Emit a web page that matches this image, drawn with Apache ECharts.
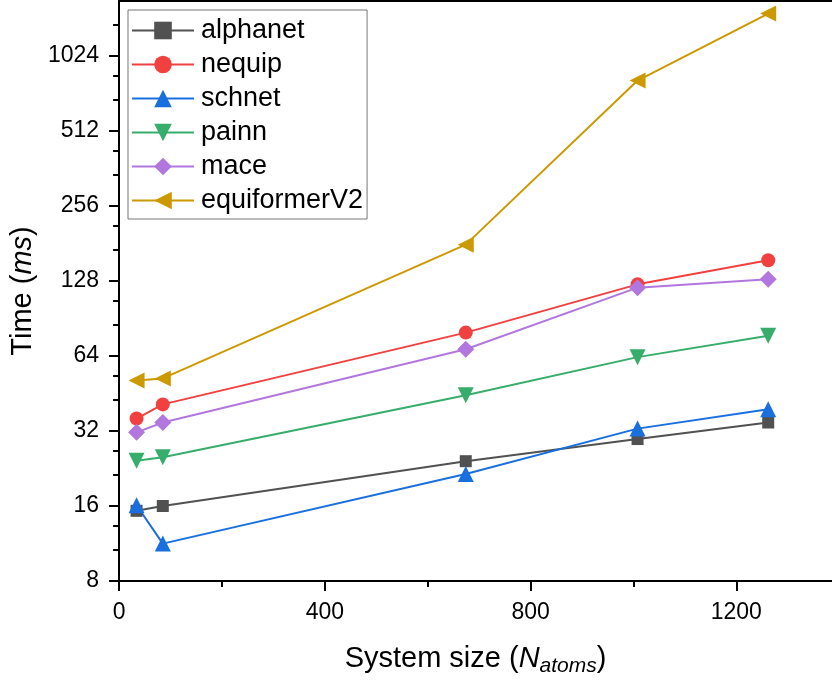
<!DOCTYPE html>
<html>
<head>
<meta charset="utf-8">
<script src="https://cdn.jsdelivr.net/npm/echarts@6/dist/echarts.min.js"></script>
<style>
  html, body { margin: 0; padding: 0; background: #fff; }
  #chart { width: 832px; height: 682px; }
</style>
</head>
<body>
<div id="chart"></div>
<script>
// system sizes (N atoms)
const sizes = [34, 85, 674, 1008, 1262];

const alphanet = [15.3, 16.0, 24.2, 29.7, 34.6];
const nequip = [35.9, 40.9, 79.4, 124, 155];
const schnet = [16.1, 11.3, 21.5, 32.7, 39.1];
const painn = [24.3, 25.1, 44.5, 63.3, 77.2];
const mace = [31.6, 34.6, 68.1, 120.3, 129.9];
const equiformerV2 = [51, 52, 179, 815, 1513];

const xTicks = [0, 400, 800, 1200];
const xMinor = [200, 600, 1000];
const yTicks = [8, 16, 32, 64, 128, 256, 512, 1024];
// minor ticks on the log axis sit at thirds of each octave (linear)
const yMinor = [];
yTicks.forEach(function (t) { yMinor.push(t * 4 / 3, t * 5 / 3); });

const font = '"Liberation Sans", Arial, sans-serif';

function pairs(ys) {
  return sizes.map(function (x, i) { return [x, ys[i]]; });
}

function makeSeries(name, ys, color, symbol, size, rotate) {
  return {
    name: name,
    type: 'line',
    data: pairs(ys),
    symbol: symbol,
    symbolSize: size,
    symbolRotate: rotate || 0,
    lineStyle: { color: color, width: 2 },
    itemStyle: { color: color, opacity: 1 },
    emphasis: { disabled: true },
    z: 3
  };
}

const tickLine = { color: '#000', width: 2 };
const xMax = 1386;
const yMin = 8, yMax = 1700;

const myChart = echarts.init(document.getElementById('chart'));

const option = {
  animation: false,
  textStyle: { fontFamily: font, color: '#000' },
  grid: { left: 118, right: 0, top: 1, bottom: 100 },
  legend: {
    orient: 'vertical',
    left: 128,
    top: 10,
    padding: [7, 4, 5, 3],
    itemWidth: 62,
    itemHeight: 22,
    itemGap: 7,
    borderColor: '#777',
    borderWidth: 1,
    textStyle: { fontFamily: font, fontSize: 27, color: '#000', padding: [0, 0, 0, 2] },
    data: ['alphanet', 'nequip', 'schnet', 'painn', 'mace', 'equiformerV2']
  },
  xAxis: [
    {
      type: 'value',
      min: 0,
      max: xMax,
      name: '{a|System size (}{i|N}{s|atoms}{a|)}',
      nameLocation: 'middle',
      nameGap: 60,
      nameTextStyle: {
        rich: {
          a: { fontFamily: font, fontSize: 29, color: '#000', lineHeight: 36 },
          i: { fontFamily: font, fontSize: 29, fontStyle: 'italic', color: '#000', lineHeight: 36 },
          s: { fontFamily: font, fontSize: 21, fontStyle: 'italic', color: '#000', lineHeight: 36, verticalAlign: 'bottom', padding: [14, 0, 0, 0] }
        }
      },
      splitLine: { show: false },
      axisLine: { lineStyle: tickLine },
      axisTick: { inside: false, length: 10, lineStyle: tickLine, customValues: xTicks },
      axisLabel: {
        fontFamily: font, fontSize: 23, color: '#000', margin: 20,
        customValues: xTicks,
        formatter: function (v) { return String(Math.round(v)); }
      }
    },
    {
      // minor ticks of the bottom axis
      type: 'value',
      position: 'bottom',
      min: 0,
      max: xMax,
      axisLine: { show: false },
      axisTick: { show: true, inside: false, length: 6, lineStyle: tickLine, customValues: xMinor },
      axisLabel: { show: false },
      splitLine: { show: false }
    },
    {
      // top frame line
      type: 'value',
      position: 'top',
      min: 0,
      max: xMax,
      axisLine: { show: true, lineStyle: tickLine },
      axisTick: { show: false },
      axisLabel: { show: false },
      splitLine: { show: false }
    }
  ],
  yAxis: [
    {
      type: 'log',
      logBase: 2,
      min: yMin,
      max: yMax,
      name: '{a|Time (}{i|ms}{a|)}',
      nameLocation: 'middle',
      nameGap: 74,
      nameTextStyle: {
        rich: {
          a: { fontFamily: font, fontSize: 29, color: '#000' },
          i: { fontFamily: font, fontSize: 29, fontStyle: 'italic', color: '#000' }
        }
      },
      splitLine: { show: false },
      axisLine: { show: true, lineStyle: tickLine },
      axisTick: { inside: false, length: 10, lineStyle: tickLine, customValues: yTicks },
      axisLabel: {
        fontFamily: font, fontSize: 23, color: '#000', margin: 20,
        customValues: yTicks,
        formatter: function (v) { return String(Math.round(v)); }
      }
    },
    {
      // minor ticks of the log axis
      type: 'log',
      logBase: 2,
      position: 'left',
      min: yMin,
      max: yMax,
      axisLine: { show: false },
      axisTick: { show: true, inside: false, length: 6, lineStyle: tickLine, customValues: yMinor },
      axisLabel: { show: false },
      splitLine: { show: false }
    }
  ],
  series: [
    makeSeries('alphanet', alphanet, '#515151', 'rect', 12),
    makeSeries('nequip', nequip, '#F14040', 'circle', 14),
    makeSeries('schnet', schnet, '#1A6FDF', 'triangle', 16),
    makeSeries('painn', painn, '#37AD6B', 'triangle', 16, 180),
    makeSeries('mace', mace, '#B177DE', 'diamond', 17),
    makeSeries('equiformerV2', equiformerV2, '#CC9900', 'triangle', 16, 90)
  ]
};

myChart.setOption(option);

window.addEventListener('resize', function () {
  myChart.resize();
});
</script>
</body>
</html>
